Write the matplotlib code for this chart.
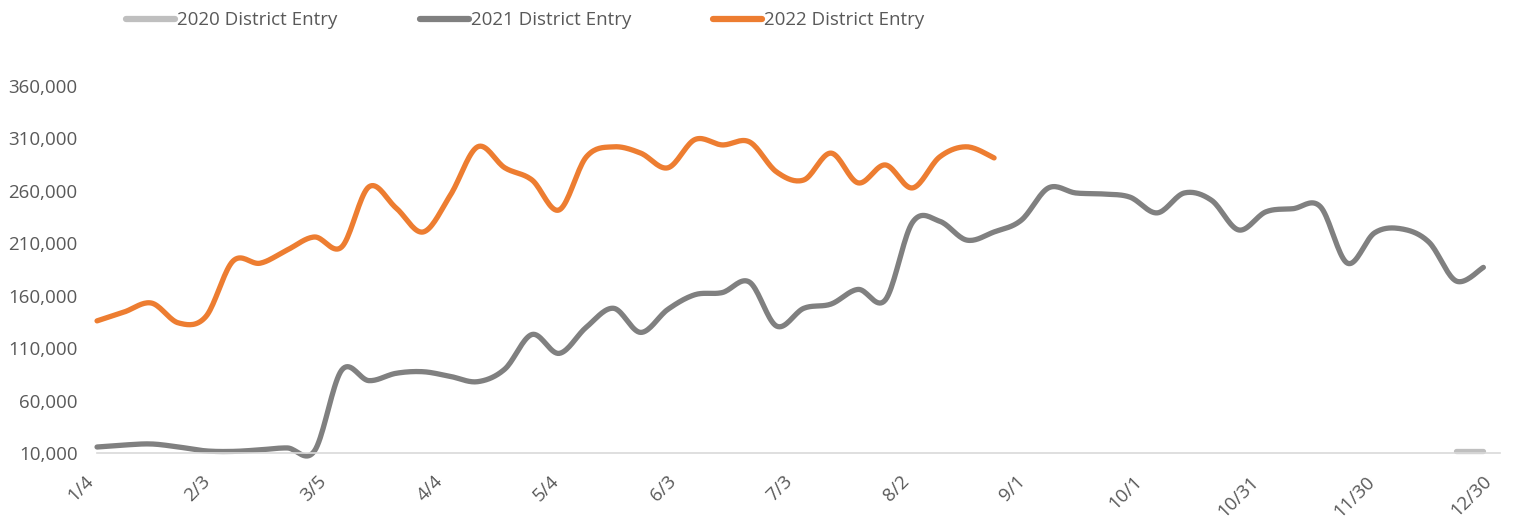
import numpy as np
import pandas as pd
import matplotlib
matplotlib.use("Agg")
import matplotlib.pyplot as plt

# weekly district entry counts
weeks = pd.date_range("2021-01-04", periods=52, freq="7D")

entry_2020 = [12000, 12000]  # only the last two weeks are shown

entry_2021 = [15700, 17600, 18600, 15700, 12000, 11500, 13000, 14800, 12000, 89000,
              79000, 86000, 87500, 83000, 78000, 90000, 123000, 105000, 130000, 148000,
              125000, 147000, 161000, 163000, 173000, 131000, 148000, 152000, 166000, 156000,
              230000, 231000, 213000, 220800, 232000, 262800, 258000, 257000, 254000, 239000,
              258000, 251000, 222700, 240000, 243000, 245000, 191000, 220000, 223700, 211000,
              174000, 187000]

entry_2022 = [136000, 144500, 153000, 134000, 140000, 193000, 191000, 203700, 216000, 206500,
              263800, 243700, 220800, 256000, 302000, 282000, 270400, 241800, 292400, 302000,
              296000, 282000, 309000, 303800, 306700, 278000, 270400, 296000, 267600, 284700,
              262800, 292400, 302000, 291400]

tick_labels = ["1/4", "2/3", "3/5", "4/4", "5/4", "6/3", "7/3", "8/2", "9/1",
               "10/1", "10/31", "11/30", "12/30"]
y_ticks = [10000, 60000, 110000, 160000, 210000, 260000, 310000, 360000]


def smooth(x, y, n=20):
    # excel style smoothed line (catmull-rom through the points)
    x = np.asarray(x, float)
    y = np.asarray(y, float)
    px = np.concatenate([[x[0]], x, [x[-1]]])
    py = np.concatenate([[y[0]], y, [y[-1]]])
    xs, ys = [], []
    t = np.linspace(0, 1, n)
    for i in range(1, len(px) - 2):
        for p, out in ((px, xs), (py, ys)):
            p0, p1, p2, p3 = p[i - 1], p[i], p[i + 1], p[i + 2]
            m1 = (p2 - p0) / 2
            m2 = (p3 - p1) / 2
            h00 = 2 * t**3 - 3 * t**2 + 1
            h10 = t**3 - 2 * t**2 + t
            h01 = -2 * t**3 + 3 * t**2
            h11 = t**3 - t**2
            out.extend(h00 * p1 + h10 * m1 + h01 * p2 + h11 * m2)
    return np.array(xs), np.array(ys)


start = weeks[0]
days = np.array([(d - start).days for d in weeks])

plt.rcParams["font.family"] = ["Open Sans", "DejaVu Sans"]
fig = plt.figure(figsize=(15.14, 5.19), dpi=100)
ax = fig.add_axes([0.0641, 0.1272, 0.9267, 0.7071])

c2020 = "#BFBFBF"
c2021 = "#808080"
c2022 = "#ED7D31"

x20, y20 = smooth(days[-len(entry_2020):], entry_2020)
ax.plot(x20, y20, color=c2020, lw=3.8, solid_capstyle="round", clip_on=False,
        label="2020 District Entry")
x21, y21 = smooth(days[:len(entry_2021)], entry_2021)
ax.plot(x21, y21, color=c2021, lw=3.8, solid_capstyle="round", clip_on=False,
        label="2021 District Entry")
x22, y22 = smooth(days[:len(entry_2022)], entry_2022)
ax.plot(x22, y22, color=c2022, lw=3.8, solid_capstyle="round", clip_on=False,
        label="2022 District Entry")

ax.set_xlim(0, 361.3)
ax.set_ylim(10000, 360000)
ax.set_xticks(np.arange(len(tick_labels)) * 30)
ax.set_xticklabels(tick_labels, rotation=45, ha="right", fontsize=13.5, color="#595959")
ax.set_yticks(y_ticks)
ax.set_yticklabels([f"{v:,}" for v in y_ticks], fontsize=13.5, color="#595959")
ax.tick_params(axis="both", length=0)
ax.tick_params(axis="y", pad=14)
ax.tick_params(axis="x", pad=14)

for s in ("top", "right", "left"):
    ax.spines[s].set_visible(False)
ax.spines["bottom"].set_color("#D9D9D9")
ax.spines["bottom"].set_linewidth(1.2)

leg = fig.legend(loc="center", bbox_to_anchor=(0.347, 0.961), ncol=3, frameon=False,
                 fontsize=13.5, handlelength=2.6, handletextpad=0.1, columnspacing=4.4,
                 labelcolor="#595959")
for h in leg.get_lines():
    h.set_linewidth(4.5)

fig.savefig("out.png", dpi=100)
